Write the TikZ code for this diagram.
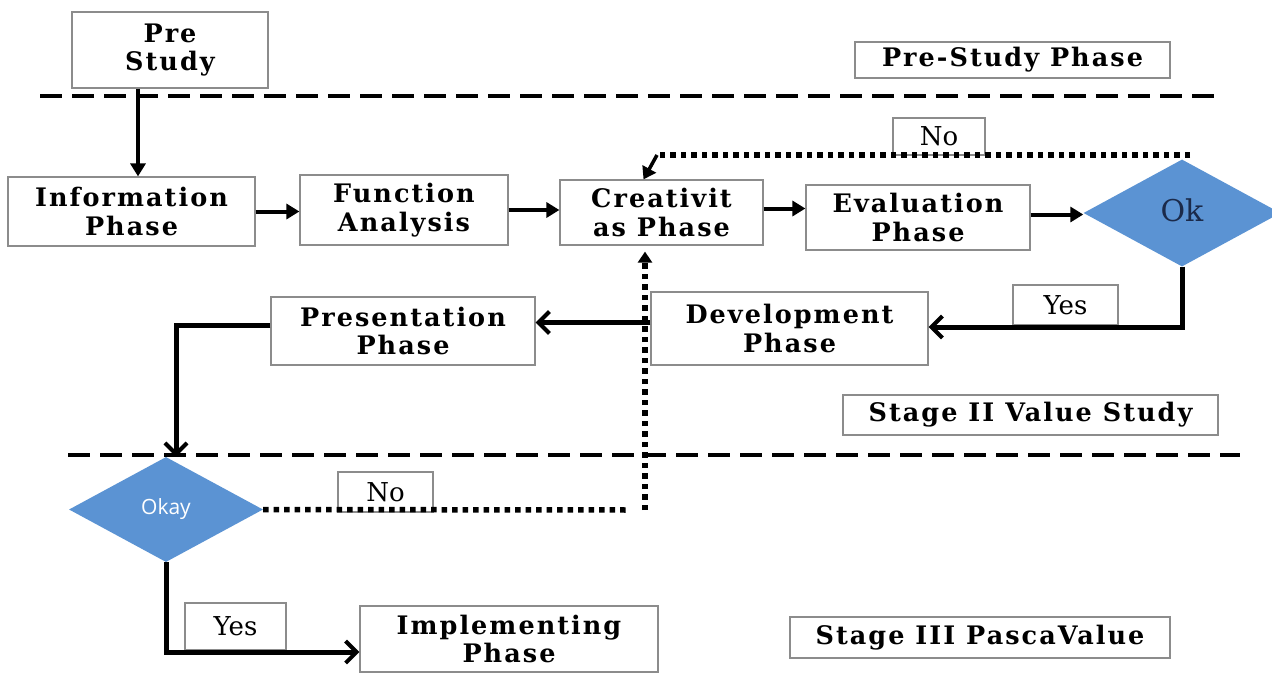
\documentclass[tikz,border=0pt]{standalone}
\usepackage{fontspec}
\setmainfont{DejaVu Serif}
\newfontfamily\boxfont[LetterSpace=8]{DejaVu Serif}
\newfontfamily\okfont{Open Sans}
\usetikzlibrary{arrows.meta,shapes.geometric,calc}
\definecolor{boxgray}{HTML}{8C8C8C}
\definecolor{dblue}{HTML}{5B93D3}
\definecolor{navy}{HTML}{1B2A4A}
\begin{document}
\begin{tikzpicture}[x=1pt,y=-1pt,
  phasebox/.style={draw=boxgray,line width=1.2pt,fill=white,align=center,inner sep=0pt,
    font=\boxfont\fontsize{25.5}{28.5}\selectfont\bfseries},
  labelbox/.style={draw=boxgray,line width=1.2pt,fill=white,align=center,inner sep=0pt,
    font=\fontsize{26}{30}\selectfont},
  decision/.style={diamond,fill=dblue,draw=none,inner sep=0pt},
  flow/.style={line width=4pt,-{Triangle[length=13pt,width=15pt]}},
  openflow/.style={line width=5pt,-{Straight Barb[length=11pt,width=22pt,line width=4pt]}},
  dots/.style={line width=5.5pt,dash pattern=on 5.5pt off 5pt},
  sep/.style={line width=4pt,dash pattern=on 22pt off 10pt}]
\useasboundingbox (0,0) rectangle (1272,675);

% separators
\coordinate (s1a) at (40,96);  \coordinate (s1b) at (1218,96);
\coordinate (s2a) at (68,455); \coordinate (s2b) at (1240,455);
\draw[sep] (s1a) -- (s1b);
\draw[sep] (s2a) -- (s2b);

% nodes
\node[phasebox,minimum width=196,minimum height=76] (pre) at (170,50) {Pre\\Study};
\node[phasebox,minimum width=315,minimum height=36] (psp) at (1012.5,60) {Pre-Study Phase};
\node[phasebox,minimum width=247,minimum height=69] (info) at (131.5,211.5) {Information\\Phase};
\node[phasebox,minimum width=208,minimum height=70] (func) at (404,210) {Function\\Analysis};
\node[phasebox,minimum width=203,minimum height=65] (creat) at (661.5,212.5) {Creativit\\as Phase};
\node[phasebox,minimum width=224,minimum height=65] (eval) at (918,217.5) {Evaluation\\Phase};
\node[decision,minimum width=197,minimum height=107] (ok) at (1182,213)
  {\raisebox{6pt}{\fontsize{30}{32}\selectfont\color{navy}Ok}};
\node[labelbox,minimum width=92,minimum height=37] (no1) at (939,136.5) {No};
\node[labelbox,minimum width=105,minimum height=40] (yes1) at (1065.5,305) {Yes};
\node[phasebox,minimum width=277,minimum height=73] (dev) at (789.5,328.5) {Development\\Phase};
\node[phasebox,minimum width=264,minimum height=68] (pres) at (403,331) {Presentation\\Phase};
\node[phasebox,minimum width=375,minimum height=40] (st2) at (1030.5,415) {Stage II Value Study};
\node[decision,minimum width=194,minimum height=105] (okay) at (166,509.5)
  {\okfont\fontsize{21}{24}\selectfont\color{white}Okay};
\node[labelbox,minimum width=95,minimum height=40] (no2) at (385.5,492) {No};
\node[labelbox,minimum width=101,minimum height=47] (yes2) at (235.5,626.5) {Yes};
\node[phasebox,minimum width=298,minimum height=66] (impl) at (509,639) {Implementing\\Phase};
\node[phasebox,minimum width=380,minimum height=41] (st3) at (980,637.5) {Stage III PascaValue};

% main flow
\draw[flow] ([xshift=-32pt]pre.south) -- ([xshift=-32pt]pre.south |- info.north);
\draw[flow] (info.east) -- (info.east -| func.west);
\draw[flow] (func.east) -- (func.east -| creat.west);
\draw[flow] ([yshift=4pt]creat.east) -- ([yshift=4pt]creat.east -| eval.west);
\draw[flow] ([yshift=3pt]eval.east) -- ([yshift=3pt]eval.east -| ok.west);

% Ok -> Development (yes)
\draw[openflow] (ok.south) |- ([yshift=1.5pt]dev.east);
% Development -> Presentation
\draw[openflow] ([yshift=6pt]dev.west) -- ([yshift=6pt]dev.west -| pres.east);
% Presentation -> Okay
\coordinate (pk) at (176,322);
\draw[openflow] ([yshift=6pt]pres.west) -| (pk |- okay.north);

% Okay -> Implementing (yes)
\draw[openflow] (okay.south) |- ([yshift=-13pt]impl.west);

% No loops (dotted)
\coordinate (d1) at (1190,155);
\coordinate (d2) at (657,155);
\draw[dots] (d1) -- (d2);
\draw[line width=3.5pt,-{Triangle[length=12pt,width=15pt]}] (d2) -- ([xshift=-18pt]creat.north);

\coordinate (d3) at (645,510);
\coordinate (d4) at (630,510);
\draw[dots] (okay.east) -- (d4);
\draw[dots,-{Triangle[length=11pt,width=14pt]}] (d3) -- ([yshift=-6pt]d3 |- creat.south);
\end{tikzpicture}
\end{document}
